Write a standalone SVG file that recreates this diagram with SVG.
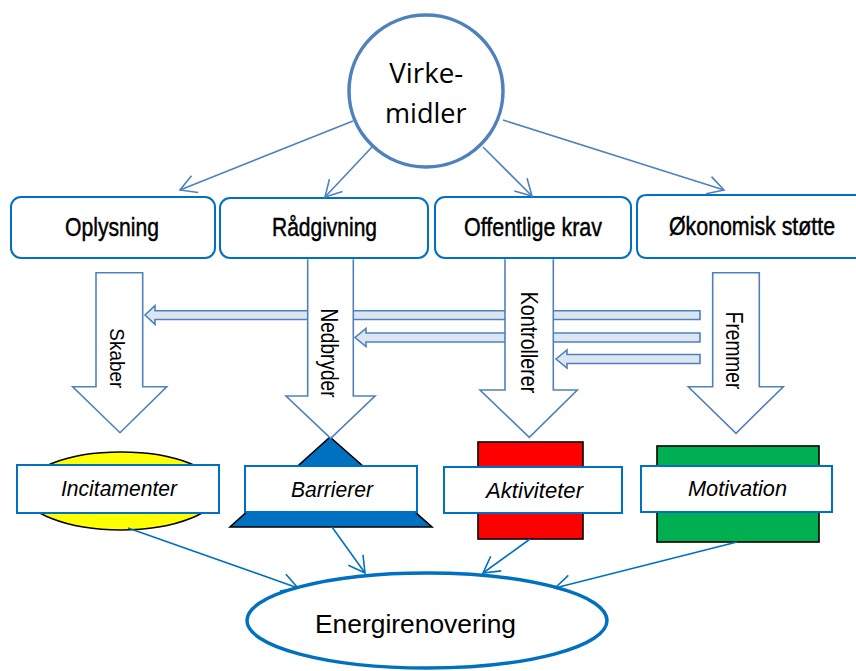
<svg xmlns="http://www.w3.org/2000/svg" width="856" height="671" viewBox="0 0 856 671">
<defs>
<style>
.lbl{font-family:"Liberation Sans",Arial,sans-serif;fill:#000;text-anchor:middle}
.top{stroke:#000;stroke-width:0.45}
.box{fill:#fff;stroke:#0070C0;stroke-width:2}
.ibox{fill:#fff;stroke:#0070C0;stroke-width:2}
.blk{fill:#fff;stroke:#4F81BD;stroke-width:1.6;stroke-linejoin:miter}
.hbar{fill:#DCE6F2;stroke:#4F81BD;stroke-width:1.6}
.thin1{fill:none;stroke:#4F81BD;stroke-width:1.6;marker-end:url(#ah1)}
.thin2{fill:none;stroke:#0070C0;stroke-width:1.6;marker-end:url(#ah2)}
.shape{stroke:#000;stroke-width:1.6}
</style>
<marker id="ah1" markerUnits="userSpaceOnUse" markerWidth="22" markerHeight="22" refX="17" refY="10" orient="auto" overflow="visible"><path d="M1,1 L17,10 L1,19" fill="none" stroke="#4F81BD" stroke-width="1.6"/></marker>
<marker id="ah2" markerUnits="userSpaceOnUse" markerWidth="22" markerHeight="22" refX="17" refY="10" orient="auto" overflow="visible"><path d="M1,1 L17,10 L1,19" fill="none" stroke="#0070C0" stroke-width="1.6"/></marker>
</defs>
<rect width="856" height="671" fill="#fff"/>

<g id="virkemidler">
<ellipse cx="426" cy="91" rx="77" ry="76" fill="#fff" stroke="#4F81BD" stroke-width="3.5"/>
<text class="lbl" style="font-family:'Open Sans','Liberation Sans',sans-serif" font-size="27" x="426.3" y="83.3" textLength="74" lengthAdjust="spacingAndGlyphs">Virke-</text>
<text class="lbl" style="font-family:'Open Sans','Liberation Sans',sans-serif" font-size="27" x="425.8" y="122.7" textLength="81.7" lengthAdjust="spacingAndGlyphs">midler</text>
</g>

<g id="oplysning">
<rect class="box" x="11" y="197" width="204" height="61" rx="10"/>
<text class="lbl top" font-size="25" x="112" y="236" textLength="94" lengthAdjust="spacingAndGlyphs">Oplysning</text>
</g>
<g id="raadgivning">
<rect class="box" x="220" y="198" width="208" height="60" rx="10"/>
<text class="lbl top" font-size="25" x="324.5" y="236" textLength="105" lengthAdjust="spacingAndGlyphs">Rådgivning</text>
</g>
<g id="offentlige-krav">
<rect class="box" x="435" y="197" width="196" height="61" rx="10"/>
<text class="lbl top" font-size="25" x="533" y="236" textLength="138" lengthAdjust="spacingAndGlyphs">Offentlige krav</text>
</g>
<g id="oekonomisk-stoette">
<path class="box" d="M856,195 H647 Q637,195 637,205 V248 Q637,258 647,258 H856"/>
<text class="lbl top" font-size="25" x="752" y="235" textLength="166" lengthAdjust="spacingAndGlyphs">Økonomisk støtte</text>
</g>

<g id="incitamenter">
<ellipse class="shape" cx="121" cy="491" rx="98" ry="39" fill="#FFFF00"/>
<rect class="ibox" x="17" y="465" width="202" height="48"/>
<text class="lbl" font-size="22" font-style="italic" x="119" y="496" textLength="116" lengthAdjust="spacingAndGlyphs">Incitamenter</text>
</g>
<g id="barrierer">
<polygon class="shape" points="330,437 432,527 230,527" fill="#0070C0"/>
<rect class="ibox" x="245" y="466" width="172" height="46"/>
<text class="lbl" font-size="22" font-style="italic" x="332" y="497" textLength="82" lengthAdjust="spacingAndGlyphs">Barrierer</text>
</g>
<g id="aktiviteter">
<rect class="shape" x="478" y="442" width="105" height="97" fill="#FF0000" stroke-width="2"/>
<rect class="ibox" x="444" y="467" width="178" height="46"/>
<text class="lbl" font-size="22" font-style="italic" x="534.5" y="498" textLength="97" lengthAdjust="spacingAndGlyphs">Aktiviteter</text>
</g>
<g id="motivation">
<rect class="shape" x="657" y="446" width="162" height="96" fill="#00B050" stroke-width="2"/>
<rect class="ibox" x="641" y="466" width="191" height="46"/>
<text class="lbl" font-size="22" font-style="italic" x="737.5" y="496" textLength="99" lengthAdjust="spacingAndGlyphs">Motivation</text>
</g>

<g id="energirenovering">
<ellipse cx="427" cy="620.5" rx="180" ry="47.5" fill="#fff" stroke="#0070C0" stroke-width="3.5"/>
<text class="lbl" font-size="25" x="415.5" y="633" textLength="201" lengthAdjust="spacingAndGlyphs">Energirenovering</text>
</g>

<g id="connectors">
<path class="hbar" d="M700,310.7 H155 V305.7 L145,315 L155,324.3 V319.5 H700 Z"/>
<path class="hbar" d="M700,333 H366 V328.5 L355,337.5 L366,346.5 V342 H700 Z"/>
<path class="hbar" d="M700,354.5 H567 V350 L556,359 L567,368 V363.5 H700 Z"/>

<path class="blk" d="M96,272.7 H142.7 V386.7 H166.7 L120,432.7 L72.7,386.7 H96 Z"/>
<path class="blk" d="M307.7,259.2 V396 H286 L330.7,438.3 L375,396 H353.3 V259.2"/>
<path class="blk" d="M505,259.2 V390 H480 L529.3,437.3 L577.3,390 H553.3 V259.2"/>
<path class="blk" d="M712.7,272.7 H759.3 V386.7 H783.3 L736,433.3 L688.3,386.7 H712.7 Z"/>

<text class="lbl" font-size="20" transform="translate(109.5,358.3) rotate(90)" x="0" y="0" textLength="60" lengthAdjust="spacingAndGlyphs">Skaber</text>
<text class="lbl" font-size="23.5" transform="translate(320.5,353) rotate(90)" x="0" y="0" textLength="89" lengthAdjust="spacingAndGlyphs">Nedbryder</text>
<text class="lbl" font-size="24" transform="translate(520.5,342.5) rotate(90)" x="0" y="0" textLength="101.6" lengthAdjust="spacingAndGlyphs">Kontrollerer</text>
<text class="lbl" font-size="24.5" transform="translate(726,350.5) rotate(90)" x="0" y="0" textLength="77.6" lengthAdjust="spacingAndGlyphs">Fremmer</text>

<line class="thin1" x1="353" y1="121" x2="180" y2="190"/>
<line class="thin1" x1="372" y1="147" x2="325" y2="197"/>
<line class="thin1" x1="483" y1="147" x2="532" y2="196"/>
<line class="thin1" x1="503" y1="120" x2="724" y2="190"/>

<line class="thin2" x1="128" y1="528" x2="298" y2="588"/>
<line class="thin2" x1="332" y1="527" x2="365" y2="573"/>
<line class="thin2" x1="530" y1="539" x2="483" y2="573"/>
<line class="thin2" x1="737" y1="542" x2="555" y2="588"/>
</g>
</svg>
